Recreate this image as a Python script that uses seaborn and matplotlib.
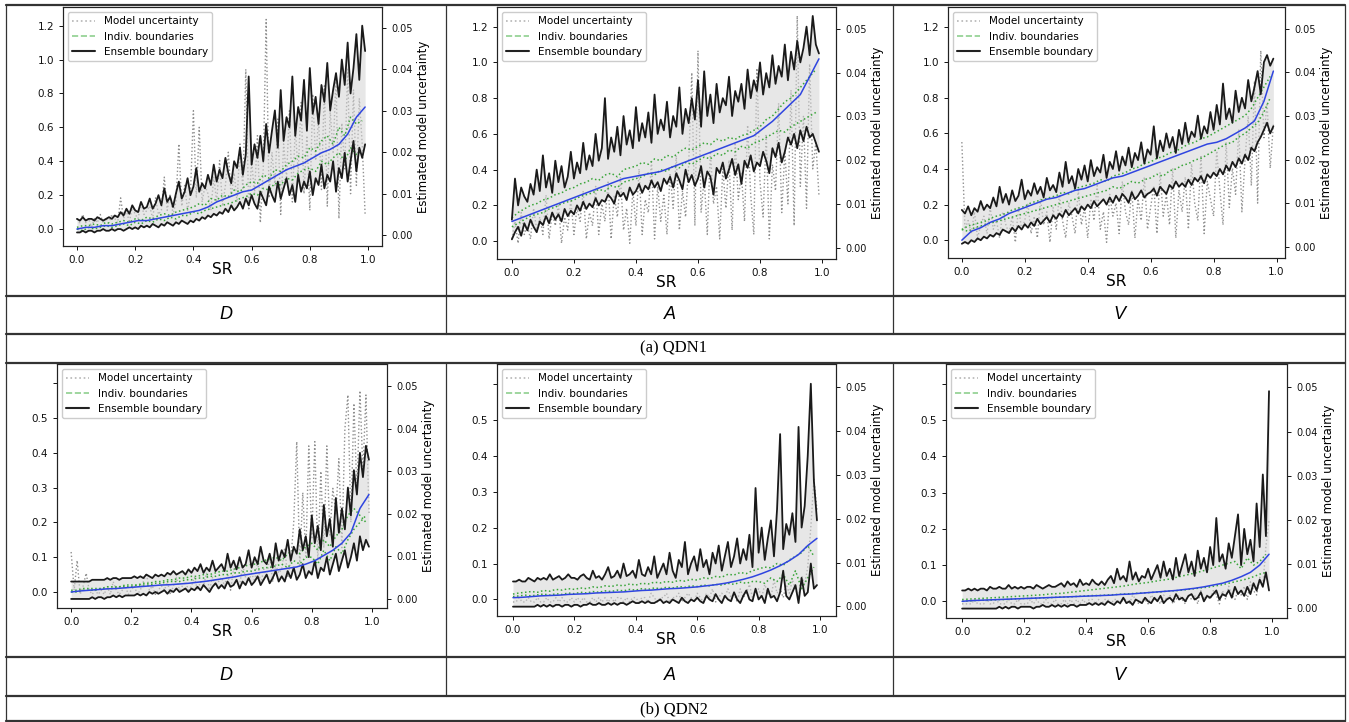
import numpy as np
import matplotlib.pyplot as plt
import seaborn as sns
from matplotlib.lines import Line2D

sns.set_theme(style='ticks', rc={'axes.linewidth': 0.8, 'axes.edgecolor': '#222222',
                                 'xtick.major.size': 3, 'ytick.major.size': 3,
                                 'xtick.major.width': 0.7, 'ytick.major.width': 0.7,
                                 'text.color': 'black'})
plt.rcParams['font.family'] = ['DejaVu Sans']

# SR (x axis) in percent, shared by every panel
sr_pct = [0, 1, 2, 3, 4, 5, 6, 7, 8, 9,
          10, 11, 12, 13, 14, 15, 16, 17, 18, 19,
          20, 21, 22, 23, 24, 25, 26, 27, 28, 29,
          30, 31, 32, 33, 34, 35, 36, 37, 38, 39,
          40, 41, 42, 43, 44, 45, 46, 47, 48, 49,
          50, 51, 52, 53, 54, 55, 56, 57, 58, 59,
          60, 61, 62, 63, 64, 65, 66, 67, 68, 69,
          70, 71, 72, 73, 74, 75, 76, 77, 78, 79,
          80, 81, 82, 83, 84, 85, 86, 87, 88, 89,
          90, 91, 92, 93, 94, 95, 96, 97, 98, 99]

# boundaries / mean in percent (left axis), model uncertainty in thousandths (right axis)
# mean sampled every 3rd SR point, individual boundaries every 2nd SR point

# ---- QDN1, D
d1_upper = [6, 5, 7, 5, 6, 6, 5, 7, 6, 5, 6, 7, 6, 8, 7, 10, 8, 12, 9, 14,
            11, 10, 16, 12, 13, 18, 12, 15, 20, 14, 24, 16, 19, 13, 21, 28, 18, 22, 30, 20,
            25, 36, 22, 27, 24, 32, 26, 38, 28, 35, 30, 42, 33, 27, 40, 36, 48, 32, 44, 90,
            38, 50, 42, 55, 40, 62, 45, 58, 70, 48, 82, 52, 66, 60, 90, 55, 72, 64, 88, 58,
            95, 68, 78, 62, 85, 75, 98, 70, 82, 92, 78, 100, 85, 110, 80, 95, 115, 88, 120, 105]
d1_lower = [-2, -2, -1, -2, -1, -1, -2, -1, -1, 0, -1, -1, 0, -1, 0, 0, -1, 0, 1, 0,
            1, 0, 2, 1, 2, 1, 3, 2, 1, 3, 2, 4, 3, 2, 4, 3, 5, 4, 3, 5,
            4, 6, 5, 7, 6, 8, 7, 9, 8, 10, 9, 12, 10, 14, 11, 13, 16, 12, 18, 14,
            20, 15, 12, 22, 18, 14, 25, 20, 16, 28, 18, 24, 30, 20, 26, 16, 32, 22, 28, 24,
            34, 20, 30, 26, 38, 24, 32, 28, 40, 22, 36, 30, 45, 28, 40, 52, 34, 48, 42, 50]
d1_unc = [4, 3, 5, 3, 4, 2, 4, 3, 5, 3, 4, 3, 5, 4, 3, 9, 4, 6, 3, 7,
          5, 4, 8, 5, 6, 7, 4, 9, 5, 6, 14, 6, 10, 5, 8, 22, 7, 12, 6, 10,
          30, 9, 26, 8, 12, 10, 6, 14, 8, 18, 7, 12, 20, 9, 15, 8, 22, 11, 40, 6,
          18, 10, 24, 3, 16, 52, 9, 20, 12, 28, 5, 22, 14, 30, 8, 26, 15, 32, 10, 24,
          6, 34, 18, 28, 11, 36, 7, 30, 20, 38, 4, 27, 16, 40, 10, 35, 12, 33, 22, 5]
d1_mean = [0, 1, 1, 2, 2, 3, 4, 5, 5, 6, 7, 8, 9, 10, 11, 13, 16, 18, 20, 22,
           23, 26, 29, 32, 35, 37, 39, 42, 45, 47, 50, 56, 66, 72]
d1_ghi = [1, 2, 2, 3, 2, 4, 3, 4, 5, 4, 6, 5, 7, 6, 8, 9, 8, 10, 11, 12,
          13, 15, 14, 18, 17, 20, 19, 23, 22, 26, 28, 27, 32, 30, 35, 34, 38, 40, 43, 42,
          48, 46, 52, 55, 50, 60, 55, 66, 62, 64]
d1_glo = [0, -1, 1, 0, 1, 2, 1, 2, 3, 2, 4, 3, 5, 4, 6, 5, 7, 6, 8, 8,
          10, 9, 11, 12, 13, 14, 15, 16, 18, 19, 21, 20, 24, 23, 27, 26, 30, 29, 33, 35,
          36, 34, 40, 38, 42, 45, 40, 48, 44, 46]

# ---- QDN1, A
a1_upper = [12, 35, 20, 30, 25, 22, 32, 26, 40, 28, 48, 30, 38, 27, 45, 33, 42, 30, 36, 50,
            35, 44, 38, 55, 40, 48, 42, 60, 45, 52, 80, 46, 58, 50, 64, 48, 70, 54, 62, 52,
            75, 56, 66, 58, 72, 55, 82, 60, 68, 62, 78, 58, 70, 64, 86, 60, 74, 66, 80, 68,
            90, 64, 95, 70, 82, 66, 88, 72, 80, 76, 92, 70, 84, 78, 88, 74, 96, 80, 90, 84,
            100, 82, 94, 86, 104, 88, 98, 92, 110, 90, 106, 96, 112, 100, 108, 120, 104, 126, 110, 105]
a1_lower = [1, 5, 8, 3, 10, 6, 12, 8, 5, 11, 9, 14, 10, 16, 12, 15, 11, 18, 14, 17,
            15, 20, 17, 22, 18, 21, 19, 24, 20, 23, 22, 26, 24, 21, 28, 25, 27, 23, 30, 26,
            28, 32, 27, 31, 29, 34, 30, 33, 28, 35, 32, 36, 30, 38, 34, 29, 40, 33, 37, 31,
            35, 42, 30, 39, 36, 26, 41, 38, 44, 35, 40, 46, 37, 43, 32, 45, 41, 48, 39, 44,
            42, 50, 45, 38, 52, 47, 55, 44, 50, 58, 54, 60, 52, 62, 56, 64, 58, 60, 55, 50]
a1_unc = [2, 6, 1, 8, 3, 5, 2, 9, 4, 7, 3, 12, 2, 8, 5, 10, 1, 7, 4, 11,
          3, 9, 6, 13, 2, 8, 5, 14, 3, 10, 6, 15, 2, 12, 7, 16, 4, 9, 1, 13,
          5, 18, 3, 11, 8, 20, 2, 14, 6, 12, 3, 17, 9, 21, 4, 13, 7, 19, 40, 5,
          45, 8, 16, 3, 22, 10, 14, 2, 18, 9, 20, 4, 24, 11, 17, 6, 28, 12, 3, 41,
          15, 7, 26, 2, 19, 13, 33, 8, 22, 10, 36, 5, 53, 14, 30, 9, 42, 18, 24, 12]
a1_mean = [11, 13, 15, 17, 19, 21, 23, 25, 27, 29, 31, 33, 35, 36, 37, 38, 39, 41, 43, 45,
           47, 49, 51, 53, 55, 57, 59, 63, 67, 72, 77, 82, 92, 102]
a1_ghi = [13, 16, 18, 20, 21, 23, 24, 26, 27, 29, 30, 32, 33, 35, 34, 37, 38, 36, 40, 41,
          42, 44, 43, 46, 45, 48, 47, 50, 52, 51, 53, 55, 54, 57, 56, 58, 57, 59, 60, 62,
          64, 68, 70, 74, 78, 80, 84, 88, 92, 96]
a1_glo = [8, 10, 12, 14, 15, 16, 18, 19, 21, 22, 23, 25, 26, 27, 29, 28, 31, 30, 33, 34,
          35, 36, 38, 37, 40, 39, 42, 41, 44, 43, 45, 47, 46, 49, 48, 51, 50, 53, 52, 55,
          56, 58, 60, 62, 61, 64, 66, 68, 70, 72]

# ---- QDN1, V
v1_upper = [17, 15, 19, 14, 18, 16, 22, 17, 20, 18, 24, 19, 30, 21, 26, 20, 28, 22, 25, 34,
            23, 28, 25, 32, 26, 30, 24, 35, 28, 31, 27, 38, 30, 44, 32, 36, 29, 40, 34, 42,
            33, 45, 36, 41, 38, 48, 35, 44, 40, 50, 39, 47, 42, 52, 41, 49, 45, 55, 43, 51,
            48, 64, 46, 56, 50, 60, 52, 58, 49, 62, 54, 66, 55, 61, 58, 70, 57, 64, 60, 72,
            62, 76, 65, 88, 68, 74, 66, 84, 72, 80, 74, 90, 78, 86, 95, 82, 100, 104, 98, 102]
v1_lower = [-2, -1, -2, 0, -1, 1, 0, 2, 1, 3, 2, 4, 3, 6, 5, 4, 7, 5, 8, 6,
            9, 7, 10, 8, 12, 9, 11, 13, 10, 14, 12, 15, 13, 17, 14, 16, 18, 15, 19, 17,
            20, 18, 22, 19, 21, 23, 20, 24, 21, 25, 22, 26, 24, 21, 27, 23, 25, 28, 24, 26,
            27, 29, 25, 30, 28, 26, 31, 29, 33, 30, 32, 30, 34, 31, 35, 33, 36, 32, 37, 35,
            38, 36, 40, 37, 42, 39, 44, 41, 46, 43, 48, 45, 52, 50, 55, 58, 62, 66, 60, 64]
v1_unc = [24, 4, 6, 3, 8, 2, 5, 7, 3, 9, 4, 6, 2, 8, 5, 3, 7, 1, 9, 4,
          6, 10, 3, 7, 2, 11, 5, 8, 1, 9, 4, 12, 6, 2, 10, 7, 3, 13, 5, 9,
          2, 11, 6, 14, 4, 8, 1, 12, 7, 10, 3, 15, 8, 5, 13, 2, 11, 6, 16, 4,
          9, 14, 3, 17, 7, 12, 5, 18, 2, 13, 8, 16, 4, 19, 10, 6, 21, 3, 15, 11,
          7, 22, 13, 5, 24, 9, 18, 12, 27, 8, 20, 30, 14, 38, 10, 45, 25, 33, 18, 28]
v1_mean = [0, 5, 7, 10, 12, 15, 17, 19, 21, 23, 24, 26, 28, 29, 31, 33, 35, 36, 38, 40,
           42, 44, 46, 48, 50, 52, 54, 55, 57, 60, 63, 67, 78, 95]
v1_ghi = [6, 8, 9, 10, 11, 13, 14, 15, 17, 18, 19, 21, 22, 23, 24, 25, 27, 26, 29, 30,
          31, 32, 34, 33, 36, 37, 38, 40, 41, 43, 44, 46, 47, 49, 50, 52, 54, 55, 57, 58,
          60, 62, 64, 66, 68, 70, 74, 80, 86, 92]
v1_glo = [6, 5, 7, 8, 9, 10, 11, 12, 13, 14, 15, 16, 17, 18, 19, 20, 21, 22, 23, 24,
          25, 26, 27, 28, 30, 29, 31, 33, 32, 34, 35, 37, 36, 39, 40, 42, 43, 45, 46, 48,
          50, 52, 54, 55, 58, 60, 63, 66, 72, 80]

# ---- QDN2, D
d2_upper = [3, 3, 3, 3, 3, 3, 3, 3.5, 3.5, 3.5, 3.5, 3.5, 4, 3.5, 4, 4, 3.5, 4, 4, 4,
            4, 4.5, 4, 4.5, 4, 5, 4.5, 4, 5, 4.5, 5, 4.5, 5.5, 5, 6, 5, 5.5, 6, 5, 6.5,
            5.5, 7, 6, 8, 5.5, 7, 6, 9, 6, 7, 8, 6, 11, 7, 9, 6.5, 10, 7, 8, 12,
            7, 10, 8, 13, 9, 8, 11, 7, 14, 9, 12, 10, 15, 9, 13, 11, 18, 12, 16, 10,
            22, 14, 19, 12, 25, 16, 21, 13, 27, 17, 24, 18, 30, 22, 35, 28, 40, 33, 42, 38]
d2_lower = [-2, -2, -2, -2, -2, -2, -2, -1.5, -2, -1.5, -1.5, -2, -1.5, -1.5, -1, -1.5, -1, -1.5, -1, -1,
            -1, -1, -0.5, -1, -0.5, -1, 0, -0.5, 0, -0.5, 0, 0.5, -0.5, 0.5, 0, 1, 0, 0.5, 1, 0,
            1, 0.5, 1.5, 0.5, 2, 1, 0, 1.5, 2.5, 1, 2, 1, 3, 1.5, 2, 3.5, 1, 3, 2, 4,
            2, 3, 4.5, 2, 3.5, 5, 2.5, 4, 6, 3, 4.5, 3, 6, 4, 7, 3.5, 5, 8, 4, 6,
            5, 9, 4, 7, 6, 10, 5, 8, 11, 6, 9, 12, 7, 10, 14, 9, 16, 12, 15, 13]
d2_unc = [11, 2, 9, 1, 3, 6, 2, 1, 2, 1, 2, 1, 3, 1, 4, 2, 1, 2, 3, 1,
          2, 3, 1, 2, 4, 6, 2, 3, 1, 2, 3, 2, 4, 1, 3, 5, 2, 3, 4, 2,
          3, 5, 2, 4, 3, 6, 2, 5, 3, 4, 5, 3, 6, 2, 7, 4, 3, 8, 5, 4,
          6, 4, 9, 3, 7, 5, 10, 4, 8, 6, 7, 12, 5, 9, 18, 37, 8, 25, 10, 36,
          14, 37, 9, 30, 12, 36, 15, 26, 20, 33, 12, 40, 48, 18, 46, 25, 49, 30, 48, 20]
d2_mean = [0, 0.3, 0.5, 0.7, 0.9, 1, 1.2, 1.4, 1.6, 1.8, 2, 2.1, 2.3, 2.5, 2.8, 3.1, 3.5, 3.9, 4.3, 4.8,
           5.2, 5.6, 6, 6.4, 6.8, 7.2, 8, 9, 10.5, 12, 14, 17, 24, 28]
d2_ghi = [0.5, 0.5, 1, 1, 1, 1, 1.5, 1.5, 1.5, 2, 2, 2, 2.5, 2.5, 3, 3, 3.5, 3.5, 4, 4,
          4.5, 4.5, 5, 5, 5.5, 6, 6, 6.5, 7, 7.5, 8, 8, 9, 9.5, 10, 9, 11, 12, 11, 13,
          14, 12, 15, 13, 16, 18, 22, 24, 22, 20]
d2_glo = [0, 0, 0.5, 0.5, 0.5, 1, 1, 1, 1.5, 1.5, 1.5, 2, 2, 2, 2.5, 2.5, 3, 3, 3, 3.5,
          3.5, 4, 4, 4.5, 4.5, 5, 5, 5.5, 5.5, 6, 6, 6.5, 7, 7, 7.5, 8, 7, 9, 8, 10,
          10, 8, 12, 9, 13, 11, 15, 18, 20, 22]

# ---- QDN2, A
a2_upper = [5, 5, 5.5, 5, 5, 6, 5.5, 5, 6, 5.5, 6, 5.5, 7, 5.5, 6, 6.5, 5.5, 6, 7, 6,
            6, 5.5, 6.5, 7, 6, 5.5, 8, 6, 6.5, 5.5, 7, 9, 6, 6.5, 8, 6, 10, 6.5, 7, 8,
            6, 11, 7, 6.5, 9, 7, 12, 6, 8, 10, 7, 13, 8, 6, 11, 9, 16, 7, 10, 12,
            8, 14, 9, 11, 7, 13, 10, 15, 8, 12, 16, 9, 12, 17, 10, 14, 11, 18, 9, 31,
            13, 20, 11, 17, 22, 12, 25, 46, 14, 21, 18, 24, 16, 48, 20, 26, 40, 60, 33, 22]
a2_lower = [-2, -2, -2, -2, -2, -2, -2, -2, -1.5, -2, -1.5, -2, -1.5, -2, -1.5, -1.5, -2, -1.5, -1.5, -2,
            -1.5, -1.5, -2, -1.5, -1.5, -1, -1.5, -1.5, -1, -1.5, -1.5, -1, -1.5, -1, -1.5, -1, -1, -1.5, -1, -0.5,
            -1, -1, -0.5, -1, -0.5, -1, -1, -0.5, 0, -1, -0.5, -1, 0, -0.5, -1, 0.5, -0.5, -1, 0, -0.5,
            0.5, -0.5, -1, 1, 0, -0.5, 1.5, 0, -1, 1, 0, -0.5, 2, 0, -1, 1, 2.5, 0, -0.5, 3,
            0, 1, -1, 3, 0.5, 1, -0.5, 2, 8, 1, 0, 2, 4, -1, 6, 1, 2, 10, 3, 4]
a2_unc = [1, 1, 2, 1, 1, 2, 1, 1, 2, 1, 1, 2, 1, 1, 2, 1, 2, 1, 1, 2,
          1, 2, 1, 2, 1, 1, 2, 1, 2, 1, 2, 1, 2, 1, 2, 2, 1, 2, 1, 2,
          2, 1, 2, 2, 1, 3, 2, 1, 2, 2, 3, 1, 2, 2, 3, 1, 2, 3, 2, 1,
          3, 2, 1, 3, 2, 4, 1, 2, 3, 2, 4, 2, 3, 1, 4, 2, 3, 5, 2, 3,
          4, 2, 5, 3, 2, 6, 3, 4, 2, 5, 3, 6, 4, 2, 7, 5, 9, 18, 29, 22]
a2_mean = [0.5, 0.6, 0.8, 1, 1.1, 1.2, 1.4, 1.5, 1.6, 1.8, 1.9, 2, 2.1, 2.3, 2.5, 2.6, 2.8, 3, 3.1, 3.3,
           3.5, 3.8, 4.1, 4.5, 5, 5.6, 6.3, 7.2, 8.2, 9.4, 10.8, 12.5, 15, 17]
a2_ghi = [1.5, 1.8, 2, 2.2, 2, 2.5, 2.3, 2.8, 2.6, 3, 2.8, 3.2, 3, 3.5, 3.3, 3.8, 3.6, 4, 3.8, 4.3,
          4, 4.5, 4.3, 4.8, 4.6, 5, 4.8, 5.3, 5.1, 5.6, 5.4, 6, 5.8, 6.4, 6.2, 7, 6.8, 7.5, 7.2, 8,
          8.5, 9, 8.8, 10, 9.5, 11, 12, 13, 15, 12]
a2_glo = [0.8, 1, 1.2, 1, 1.3, 1.5, 1.2, 1.6, 1.4, 1.8, 1.6, 2, 1.8, 2.2, 2, 2.4, 2.2, 2.6, 2.4, 2.8,
          2.6, 3, 2.8, 3.2, 3, 3.4, 3.2, 3.6, 3.4, 3.8, 3.6, 4, 3.8, 4.2, 4, 4.5, 4.2, 4.8, 4.5, 5,
          5, 4.5, 6, 5, 7, 4, 8, 3, 6, 9]

# ---- QDN2, V
v2_upper = [3, 3, 3.5, 3, 3.5, 3, 3.5, 3.5, 3, 4, 3.5, 3.5, 4, 3.5, 3.5, 4.5, 3.5, 4, 3.5, 4,
            3.5, 4, 4, 3.5, 4.5, 4, 3.5, 4, 4.5, 4, 4, 4.5, 5, 4, 5.5, 4.5, 5, 4, 6, 4.5,
            5, 4.5, 6, 5, 4.5, 5.5, 4.5, 6, 7, 5, 9, 6, 7, 5.5, 11, 6, 8, 5.5, 7, 6.5,
            9, 6, 8, 10, 6.5, 11, 7, 9, 6, 12, 7, 10, 13, 8, 11, 7, 14, 9, 12, 8,
            15, 10, 23, 11, 13, 9, 16, 12, 18, 24, 10, 20, 13, 17, 11, 27, 15, 35, 18, 58]
v2_lower = [-2, -2, -2, -2, -2, -2, -2, -2, -2, -2, -2, -2, -1.5, -2, -1.5, -2, -1.5, -1.5, -2, -1.5,
            -1.5, -1.5, -1.5, -2, -1.5, -1.5, -1, -1.5, -1.5, -1, -1.5, -1, -1.5, -1, -1.5, -1, -1, -1.5, -1, -1,
            -1, -0.5, -1, -0.5, -1, -0.5, -1, 0, -0.5, -1, 0, -0.5, 1, -0.5, 0, -1, 0.5, 0, -0.5, 1,
            0, -0.5, 1, 0, 1.5, -0.5, 0.5, 1, 0, 2, 0.5, 1, 0, 1.5, 2, 0.5, 1, 2.5, 0, 1.5,
            1, 2, 3, 0.5, 2, 1.5, 3, 1, 4, 2, 3, 1.5, 4, 2, 5, 3, 6, 4, 8, 3]
v2_unc = [1, 1, 1, 1, 2, 1, 1, 1, 2, 1, 1, 2, 1, 1, 1, 2, 1, 1, 2, 1,
          1, 1, 2, 1, 2, 1, 1, 2, 1, 1, 2, 1, 1, 2, 1, 2, 1, 2, 1, 2,
          1, 2, 2, 1, 2, 1, 2, 2, 1, 2, 2, 1, 2, 2, 1, 3, 2, 1, 2, 2,
          1, 3, 2, 2, 1, 3, 2, 3, 1, 2, 3, 2, 1, 3, 2, 3, 1, 4, 2, 3,
          2, 4, 3, 1, 4, 2, 5, 3, 2, 4, 3, 5, 2, 6, 4, 3, 7, 5, 14, 20]
v2_mean = [0, 0.2, 0.3, 0.4, 0.5, 0.6, 0.7, 0.8, 0.9, 1, 1.1, 1.2, 1.3, 1.4, 1.5, 1.6, 1.7, 1.9, 2, 2.2,
           2.4, 2.6, 2.8, 3, 3.3, 3.6, 4, 4.5, 5, 5.8, 6.8, 8, 10, 13]
v2_ghi = [0.5, 0.6, 0.7, 0.8, 0.9, 1, 1.1, 1.2, 1.3, 1.4, 1.5, 1.6, 1.7, 1.8, 2, 2.1, 2.2, 2.4, 2.6, 2.8,
          3, 3.2, 3.4, 3.6, 3.8, 4, 4.2, 4.5, 4.8, 5, 5.2, 5.5, 5.8, 6, 6.4, 6.8, 7.2, 7.6, 8, 8.5,
          9, 9.5, 10, 10.5, 11, 9, 12, 10, 11, 13]
v2_glo = [0, 0.1, 0.2, 0.3, 0.3, 0.4, 0.5, 0.5, 0.6, 0.7, 0.8, 0.8, 0.9, 1, 1, 1.1, 1.2, 1.2, 1.3, 1.4,
          1.5, 1.6, 1.6, 1.7, 1.8, 1.9, 2, 2.1, 2.2, 2.3, 2.4, 2.5, 2.6, 2.8, 2.9, 3, 3.2, 3.4, 3.6, 3.8,
          4, 4.3, 4.6, 5, 5.4, 5.8, 6.2, 6.8, 7.5, 8]

col_labels = ['D', 'A', 'V']
row_titles = ['(a) QDN1', '(b) QDN2']
legend_labels = ['Model uncertainty', 'Indiv. boundaries', 'Ensemble boundary']

panels = [
    (d1_upper, d1_lower, d1_unc, d1_mean, d1_ghi, d1_glo),
    (a1_upper, a1_lower, a1_unc, a1_mean, a1_ghi, a1_glo),
    (v1_upper, v1_lower, v1_unc, v1_mean, v1_ghi, v1_glo),
    (d2_upper, d2_lower, d2_unc, d2_mean, d2_ghi, d2_glo),
    (a2_upper, a2_lower, a2_unc, a2_mean, a2_ghi, a2_glo),
    (v2_upper, v2_lower, v2_unc, v2_mean, v2_ghi, v2_glo),
]

# layout in pixels (left, top, right, bottom)
W, H = 1349, 722
boxes = [(63, 7, 382, 246), (497, 7, 836, 259), (948, 7, 1285, 258),
         (57, 364, 387, 608), (497, 364, 836, 616), (946, 364, 1287, 618)]
xlims = [(-0.048, 1.048), (-0.048, 1.045), (-0.044, 1.027),
         (-0.047, 1.05), (-0.052, 1.052), (-0.052, 1.048)]

fig = plt.figure(figsize=(W / 100, H / 100), dpi=100)
sr = np.array(sr_pct) / 100

for i, (box, data) in enumerate(zip(boxes, panels)):
    upper, lower, unc, mean, ghi, glo = data
    row = i // 3
    l, t, r, b = box
    ax = fig.add_axes([l / W, 1 - b / H, (r - l) / W, (b - t) / H])
    ax2 = ax.twinx()
    ax.set_zorder(ax2.get_zorder() + 1)
    ax.patch.set_visible(False)

    up = np.array(upper) / 100
    lo = np.array(lower) / 100
    ax.fill_between(sr, lo, up, color='#d4d4d4', alpha=0.55, lw=0)
    sns.lineplot(x=sr, y=np.array(unc) / 1000, ax=ax2, color='#8f8f8f',
                 linestyle=':', lw=1.0, estimator=None, legend=False)
    for g in (ghi, glo):
        sns.lineplot(x=sr[::2][:len(g)], y=np.array(g) / 100, ax=ax, color='#3aa53a',
                     linestyle=':', lw=1.1, estimator=None, legend=False)
    for s in (up, lo):
        sns.lineplot(x=sr, y=s, ax=ax, color='#1a1a1a', lw=1.3, estimator=None, legend=False)
    sns.lineplot(x=sr[::3][:len(mean)], y=np.array(mean) / 100, ax=ax, color='#2f45e0',
                 lw=1.1, estimator=None, legend=False)

    ax.set_xlim(*xlims[i])
    ax.set_xticks([0, 0.2, 0.4, 0.6, 0.8, 1.0])
    ax.set_xticklabels(['0.0', '0.2', '0.4', '0.6', '0.8', '1.0'])
    if row == 0:
        ax.set_ylim(-0.1, 1.31)
        ax.set_yticks([0, 0.2, 0.4, 0.6, 0.8, 1.0, 1.2])
        ax.set_yticklabels(['0.0', '0.2', '0.4', '0.6', '0.8', '1.0', '1.2'])
        ax2.set_ylim(-0.0026, 0.055)
    else:
        ax.set_ylim(-0.046, 0.655)
        ax.set_yticks([0, 0.1, 0.2, 0.3, 0.4, 0.5, 0.6])
        ax.set_yticklabels(['0.0', '0.1', '0.2', '0.3', '0.4', '0.5', ''])
        ax2.set_ylim(-0.0022, 0.0553)
    ax2.set_yticks([0, 0.01, 0.02, 0.03, 0.04, 0.05])
    ax2.set_yticklabels(['0.00', '0.01', '0.02', '0.03', '0.04', '0.05'])
    ax.tick_params(labelsize=7.5, colors='#111111')
    ax2.tick_params(labelsize=7, colors='#111111')
    ax.set_xlabel('SR', fontsize=11, labelpad=-2, color='black')
    ax.set_ylabel('')
    ax2.set_ylabel('Estimated model uncertainty', fontsize=8.5, color='black', labelpad=3)

    handles = [Line2D([], [], color='#b5b5b5', ls=':', lw=1.2),
               Line2D([], [], color='#8fd08f', ls='--', lw=1.2),
               Line2D([], [], color='#222222', lw=1.5)]
    ax.legend(handles, legend_labels, loc='upper left', fontsize=7.5, frameon=True,
              edgecolor='#cccccc', framealpha=1, handlelength=2.2)

# table frame
def hline(y, x0=6, x1=1345, lw=1.6):
    fig.add_artist(Line2D([x0 / W, x1 / W], [1 - y / H, 1 - y / H], color='#333333', lw=lw))


def vline(x, y0, y1, lw=0.9):
    fig.add_artist(Line2D([x / W, x / W], [1 - y0 / H, 1 - y1 / H], color='#333333', lw=lw))


for y in [5, 296, 334, 363, 657, 696, 721]:
    hline(y)
vline(6, 5, 721)
vline(1345, 5, 721)
for x in [446, 893]:
    vline(x, 5, 334)
    vline(x, 363, 696)

col_x = [226, 670, 1119]
for ry in [315, 676]:
    for cx, lab in zip(col_x, col_labels):
        fig.text(cx / W, 1 - ry / H, lab, ha='center', va='center', fontsize=13,
                 style='italic', color='black', family=['Liberation Sans', 'DejaVu Sans'])
for ry, lab in zip([348, 709], row_titles):
    fig.text(674 / W, 1 - ry / H, lab, ha='center', va='center', fontsize=12,
             color='black', family=['Liberation Serif', 'DejaVu Serif'])

fig.savefig('out.png', dpi=100)
